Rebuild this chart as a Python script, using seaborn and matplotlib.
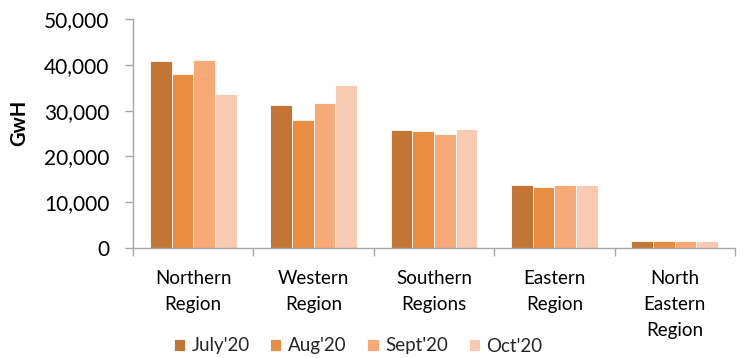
import matplotlib
matplotlib.use("Agg")
import matplotlib.pyplot as plt
import seaborn as sns
import pandas as pd
from matplotlib.ticker import FuncFormatter, MultipleLocator

regions = ["Northern\nRegion", "Western\nRegion", "Southern\nRegions", "Eastern\nRegion", "North\nEastern\nRegion"]
months = ["July'20", "Aug'20", "Sept'20", "Oct'20"]
july = [40800, 31200, 25800, 13800, 1500]
aug = [37900, 28000, 25500, 13300, 1500]
sept = [41100, 31700, 24900, 13800, 1500]
octo = [33700, 35500, 25900, 13700, 1500]
colors = ["#C27535", "#E88D42", "#F7A977", "#F9CAB2"]

rows = []
for m, vals in zip(months, [july, aug, sept, octo]):
    for r, v in zip(regions, vals):
        rows.append({"Region": r, "Month": m, "GwH": v})
df = pd.DataFrame(rows)

sns.set_theme(style="white")
plt.rcParams["font.family"] = ["Lato", "DejaVu Sans"]

fig = plt.figure(figsize=(7.46, 3.58), dpi=100)
ax = fig.add_axes([133/746, 1 - 248/358, (735-133)/746, (248-19)/358])
sns.barplot(data=df, x="Region", y="GwH", hue="Month", palette=colors,
            width=0.72, ax=ax, edgecolor="white", linewidth=0.6, saturation=1)

ax.set_ylim(0, 50000)
ax.set_xlim(-0.5, 4.5)
ax.yaxis.set_major_locator(MultipleLocator(10000))
ax.yaxis.set_major_formatter(FuncFormatter(lambda v, p: f"{int(v):,}"))
ax.set_xlabel("")
ax.set_ylabel("GwH", fontsize=14.5, fontweight="bold", color="black")
ax.yaxis.set_label_coords((29 - 133) / 602, (248 - 123) / 229)

for s in ["top", "right"]:
    ax.spines[s].set_visible(False)
for s in ["left", "bottom"]:
    ax.spines[s].set_color("#A6A6A6")
    ax.spines[s].set_linewidth(1.0)

ax.tick_params(axis="y", which="major", direction="out", length=6, width=1,
               color="#A6A6A6", labelsize=15, pad=11, left=True, labelcolor="black")
ax.set_xticks(range(5))
ax.set_xticklabels(regions)
ax.tick_params(axis="x", which="major", length=0, labelsize=13.5, pad=16, labelcolor="black")
ax.set_xticks([-0.5, 0.5, 1.5, 2.5, 3.5, 4.5], minor=True)
ax.tick_params(axis="x", which="minor", direction="out", length=6, width=1, color="#A6A6A6", bottom=True)
for lbl in ax.get_xticklabels():
    lbl.set_linespacing(1.62)

handles, labels = ax.get_legend_handles_labels()
ax.get_legend().remove()
fig.legend(handles, labels, loc="center", bbox_to_anchor=(358/746, 1 - 346/358),
           ncol=4, frameon=False, fontsize=13.5,
           handlelength=0.6, handleheight=0.6, handletextpad=0.35, columnspacing=1.1,
           borderaxespad=0, borderpad=0)

fig.savefig("out.png", dpi=100)
